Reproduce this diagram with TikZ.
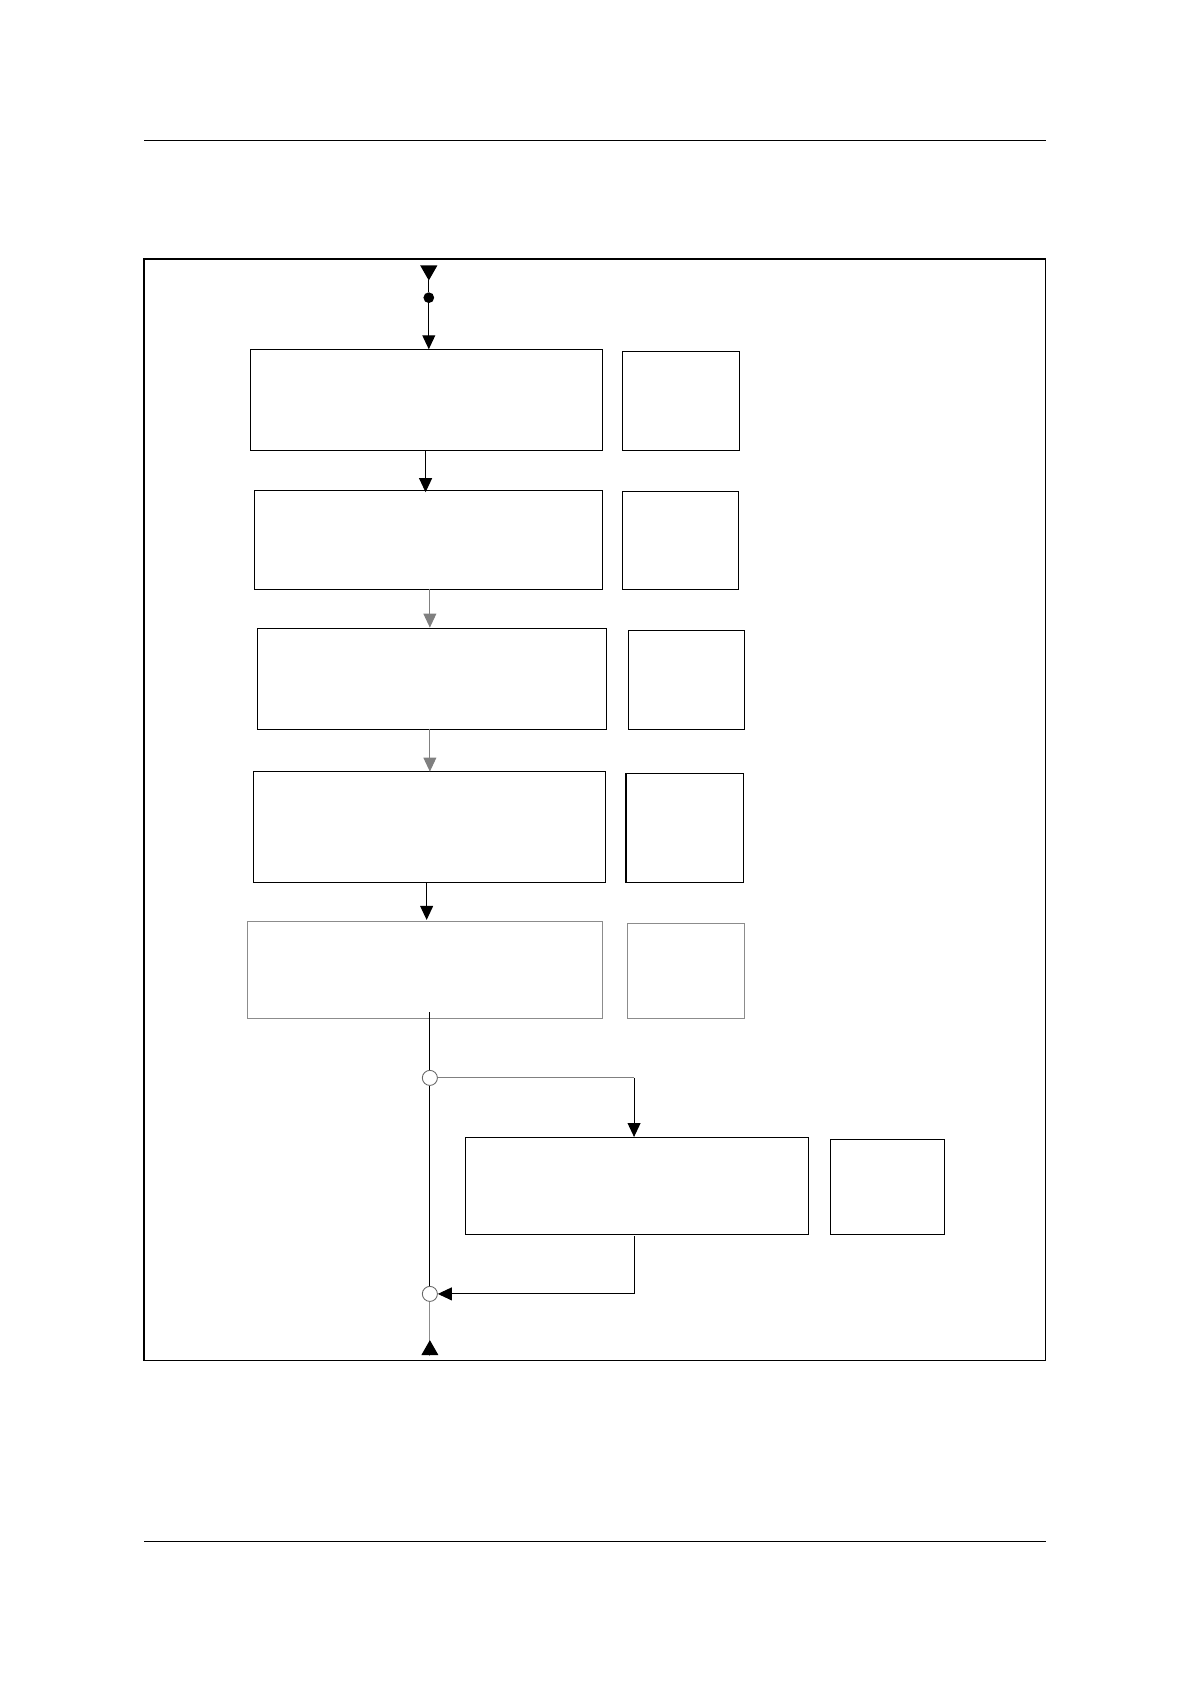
\documentclass[tikz,border=0pt]{standalone}
\usetikzlibrary{arrows.meta}
\begin{document}
\begin{tikzpicture}[x=0.5pt,y=-0.5pt,
  bx/.style={draw,line width=0.5pt,inner sep=0,anchor=north west},
  gbx/.style={draw=black!45,line width=0.5pt,inner sep=0,anchor=north west},
  arr/.style={-{Triangle[length=6.5pt,width=6pt]},line width=0.5pt},
  garr/.style={-{Triangle[length=6.5pt,width=6pt]},draw=black!50,line width=0.5pt}]
\useasboundingbox (0,0) rectangle (1107,1567);
\draw[line width=0.5pt] (134,131) -- (973,131);
\draw[line width=0.5pt] (134,1434) -- (973,1434);
\draw[line width=0.6pt] (134,241) rectangle (973,1266);
\node[bx,minimum width=163.5pt,minimum height=47pt] (b1) at (233,325) {};
\node[bx,minimum width=54.5pt,minimum height=46pt] (s1) at (579,327) {};
\node[bx,minimum width=162pt,minimum height=46pt] (b2) at (236,456) {};
\node[bx,minimum width=54pt,minimum height=45.5pt] (s2) at (579,457) {};
\node[bx,minimum width=162.5pt,minimum height=47pt] (b3) at (239,584) {};
\node[bx,minimum width=54pt,minimum height=46pt] (s3) at (584,586) {};
\node[bx,minimum width=164pt,minimum height=52pt] (b4) at (235,717) {};
\node[bx,minimum width=54.5pt,minimum height=51pt] (s4) at (582,719) {};
\node[gbx,minimum width=165pt,minimum height=45pt] (b5) at (230,857) {};
\node[gbx,minimum width=54.5pt,minimum height=44pt] (s5) at (583,859) {};
\node[bx,minimum width=159.5pt,minimum height=45pt] (b6) at (433,1058) {};
\node[bx,minimum width=53pt,minimum height=44pt] (s6) at (772,1060) {};
% top entry
\node[circle,fill,inner sep=0,minimum size=5pt] (dot) at (399,277) {};
\fill (391,247) -- (407,247) -- (399,261) -- cycle;
\draw[line width=0.5pt] (399,261) -- (dot);
\draw[arr] (dot) -- (b1.north -| dot);
\draw[arr] (396,419) -- (396,458);
\draw[garr] (400,548) -- (400,584);
\draw[garr] (400,678) -- (400,718);
\draw[arr] (397,821) -- (397,856);
\node[circle,draw=black!60,fill=white,inner sep=0,minimum size=7pt] (c1) at (400,1003) {};
\node[circle,draw=black!60,fill=white,inner sep=0,minimum size=7pt] (c2) at (400,1204) {};
\draw[line width=0.5pt] (400,942) -- (c1);
\draw[line width=0.5pt] (c1) -- (c2);
\draw[draw=black!50,line width=0.5pt] (c1) -- (590,1003);
\draw[arr] (590,1003) -- (b6.north -| 590,0);
\draw[line width=0.5pt] (590,1150) -- (590,1204);
\draw[arr] (590,1204) -- (c2);
\coordinate (bout) at (400,1262);
\draw[draw=black!45,line width=0.5pt] (c2) -- (bout);
\fill (392,1261) -- (408,1261) -- (400,1247) -- cycle;
\end{tikzpicture}
\end{document}
